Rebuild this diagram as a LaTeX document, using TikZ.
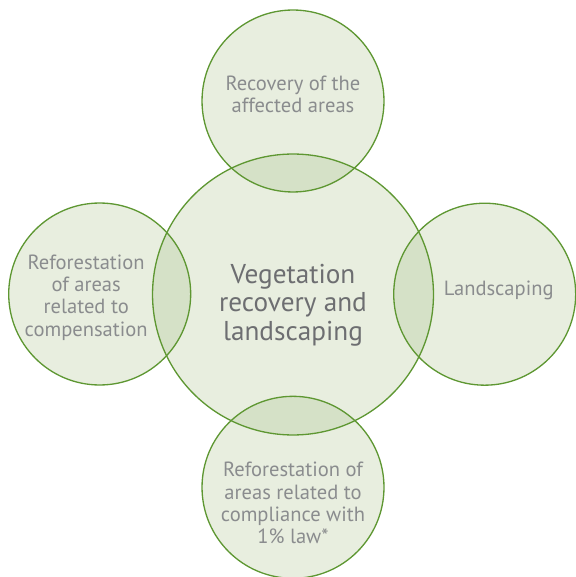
\documentclass[tikz,border=0pt]{standalone}
\usepackage{fontspec}
\setmainfont{PT Sans}
\usetikzlibrary{positioning}

\definecolor{leaf}{HTML}{E8EEDF}
\definecolor{leafdark}{HTML}{D5E1C7}
\definecolor{rim}{HTML}{5E9732}
\definecolor{inkgray}{HTML}{8A8C8E}
\definecolor{hubgray}{HTML}{6D6E71}

\tikzset{
  bubble/.style={circle, draw=rim, line width=0.75pt, inner sep=0pt},
  small/.style={bubble, minimum size=3.64cm},
  big/.style={bubble, minimum size=5.62cm},
  caption/.style={align=center, text=inkgray, font=\fontsize{11.7}{12.7}\selectfont},
  hubcaption/.style={align=center, text=hubgray, font=\fontsize{15.5}{16.2}\selectfont}
}

\begin{document}
\begin{tikzpicture}[x=0.02cm,y=-0.02cm]
	\useasboundingbox (0,0) rectangle (575,577);
	
	% centres of the five circles
	\coordinate (c0) at (293,294.5);
	\coordinate (c1) at (293,101);
	\coordinate (c2) at (99.7,294);
	\coordinate (c3) at (484.7,294.2);
	\coordinate (c4) at (293,487.3);
	
	% plain fills
	\fill[leaf] (c0) circle (2.81cm);
	\fill[leaf] (c1) circle (1.82cm);
	\fill[leaf] (c2) circle (1.82cm);
	\fill[leaf] (c3) circle (1.82cm);
	\fill[leaf] (c4) circle (1.82cm);
	
	% darker lenses where they overlap
	\begin{scope}
		\clip (c0) circle (2.81cm);
		\fill[leafdark] (c1) circle (1.82cm);
		\fill[leafdark] (c2) circle (1.82cm);
		\fill[leafdark] (c3) circle (1.82cm);
		\fill[leafdark] (c4) circle (1.82cm);
	\end{scope}
	
	\node[big] (hub) at (c0) {};
	\node[small] (top) at (c1) {};
	\node[small] (left) at (c2) {};
	\node[small] (right) at (c3) {};
	\node[small] (bottom) at (c4) {};
	
	\node[hubcaption] (hubtext) at ([yshift=-0.21cm]hub.center) {Vegetation\\recovery and\\landscaping};
	\node[caption] (toptext) at ([yshift=0.13cm]top.center) {Recovery of the\\affected areas};
	\node[caption] (lefttext) at ([xshift=-0.27cm,yshift=-0.07cm]left.center) {Reforestation\\of areas\\related to\\compensation};
	\node[caption] (righttext) at ([xshift=0.28cm,yshift=0.08cm]right.center) {Landscaping};
	\node[caption] (bottomtext) at ([yshift=-0.32cm]bottom.center) {Reforestation of\\areas related to\\compliance with\\1\% law*};
\end{tikzpicture}
\end{document}
